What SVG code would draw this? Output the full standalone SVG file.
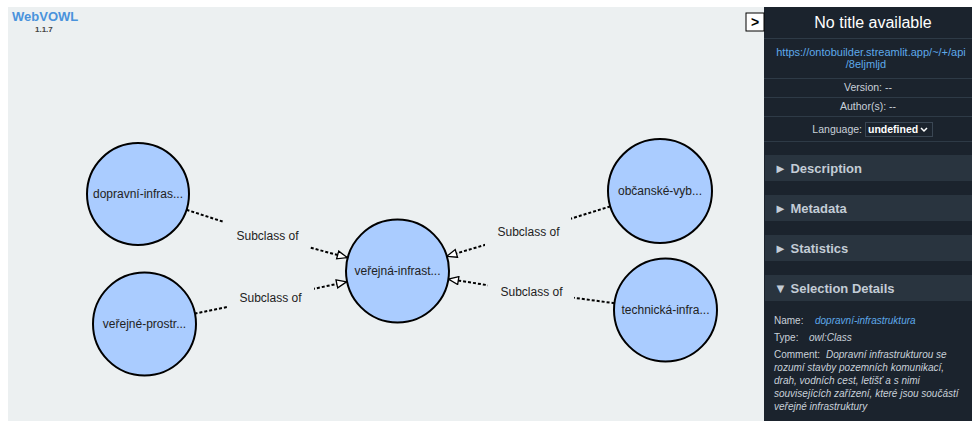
<svg xmlns="http://www.w3.org/2000/svg" width="972" height="421" viewBox="0 0 972 421">
<defs>
<style>
.node circle{fill:#aaccff;stroke:#000;stroke-width:2}
.node text{font-family:"Liberation Sans",Arial,sans-serif;font-size:12px;fill:#222;text-anchor:middle}
.link path{fill:none;stroke:#000;stroke-width:2;stroke-dasharray:3,2}
.lbl rect{fill:#ecf0f1}
.lbl text{font-family:"Liberation Sans",Arial,sans-serif;font-size:12px;fill:#222;text-anchor:middle}
.sb{font-family:"Liberation Sans",Arial,sans-serif;fill:#c9d1da}
.hdr{fill:#29343f}
.hdrt{font-family:"Liberation Sans",Arial,sans-serif;font-size:13px;font-weight:bold;fill:#c3ccd6}
.sep{stroke:#2e3a46;stroke-width:1}
.it{font-style:italic}
</style>
<marker id="arr" viewBox="0 0 12 10" refX="11" refY="5" markerWidth="12" markerHeight="10" markerUnits="userSpaceOnUse" orient="auto">
<path d="M1,1 L11,5 L1,9 Z" fill="#fff" stroke="#000" stroke-width="1.3" stroke-dasharray="none"/>
</marker>
</defs>
<rect x="0" y="0" width="972" height="421" fill="#fff"/>
<rect x="8" y="7" width="756" height="414" fill="#ecf0f1"/>
<text x="12" y="21" font-family="'Liberation Sans',Arial,sans-serif" font-size="13" font-weight="bold" fill="#4a93dc">WebVOWL</text>
<text x="35" y="32" font-family="'Liberation Sans',Arial,sans-serif" font-size="8" font-weight="bold" fill="#444">1.1.7</text>

<g id="connectors">
<g class="link"><path d="M186.5,209.8 L267,236 L347.3,257.6" marker-end="url(#arr)"/></g>
<g class="link"><path d="M194.5,313.7 L271,298 L346.6,281.8" marker-end="url(#arr)"/></g>
<g class="link"><path d="M610.3,206.4 L528,232 L446.8,256.3" marker-end="url(#arr)"/></g>
<g class="link"><path d="M614.5,303.2 L531,292 L448.4,279" marker-end="url(#arr)"/></g>
<g class="lbl"><rect x="224" y="221" width="86" height="30"/><text x="267.5" y="240">Subclass of</text></g>
<g class="lbl"><rect x="228" y="283" width="86" height="30"/><text x="270.5" y="302">Subclass of</text></g>
<g class="lbl"><rect x="485" y="217" width="86" height="30"/><text x="528.5" y="236">Subclass of</text></g>
<g class="lbl"><rect x="488" y="277" width="86" height="30"/><text x="531.5" y="296">Subclass of</text></g>
</g>

<g id="node-dopravni" class="node"><circle cx="138" cy="194" r="51"/><text x="138" y="198">dopravní-infras...</text></g>
<g id="node-verejne-prostr" class="node"><circle cx="144.5" cy="324" r="51.5"/><text x="144.5" y="328">veřejné-prostr...</text></g>
<g id="node-verejna-infrast" class="node"><circle cx="397.5" cy="271" r="51.5"/><text x="397.5" y="275">veřejná-infrast...</text></g>
<g id="node-obcanske" class="node"><circle cx="660" cy="191" r="52"/><text x="660" y="195">občanské-vyb...</text></g>
<g id="node-technicka" class="node"><circle cx="665.5" cy="310" r="51.5"/><text x="665.5" y="314">technická-infra...</text></g>

<g id="sidebar">
<rect x="764" y="7" width="208" height="414" fill="#1b232d"/>
<rect x="746" y="13" width="18" height="18" fill="#fff" stroke="#000" stroke-width="1"/>
<text x="755" y="27" font-family="'Liberation Sans',Arial,sans-serif" font-size="14" font-weight="bold" fill="#000" text-anchor="middle">&gt;</text>
<text x="873" y="28" class="sb" font-size="16" text-anchor="middle" style="fill:#fff">No title available</text>
<line x1="764" y1="38.5" x2="972" y2="38.5" class="sep"/>
<text x="871" y="56" font-family="'Liberation Sans',Arial,sans-serif" font-size="11" fill="#5ea9ea" text-anchor="middle">https://ontobuilder.streamlit.app/~/+/api</text>
<text x="866" y="68" font-family="'Liberation Sans',Arial,sans-serif" font-size="11" fill="#5ea9ea" text-anchor="middle">/8eljmljd</text>
<line x1="764" y1="78.5" x2="972" y2="78.5" class="sep"/>
<text x="868" y="91" class="sb" font-size="10.5" text-anchor="middle">Version: --</text>
<line x1="764" y1="97.5" x2="972" y2="97.5" class="sep"/>
<text x="868" y="110" class="sb" font-size="10.5" text-anchor="middle">Author(s): --</text>
<line x1="764" y1="116.5" x2="972" y2="116.5" class="sep"/>
<text x="862" y="133" class="sb" font-size="10.5" text-anchor="end">Language:</text>
<rect x="865.5" y="122.5" width="67" height="14" fill="#1b232d" stroke="#3a4653" stroke-width="1"/>
<text x="868" y="133" font-family="'Liberation Sans',Arial,sans-serif" font-size="10.5" font-weight="bold" fill="#fff">undefined</text>
<path d="M921,128 L924,131 L927,128" fill="none" stroke="#fff" stroke-width="1.5"/>
<line x1="764" y1="141.5" x2="972" y2="141.5" class="sep"/>
<rect x="765" y="155" width="207" height="26" class="hdr"/>
<text x="774" y="173" class="hdrt">► Description</text>
<rect x="765" y="195" width="207" height="26" class="hdr"/>
<text x="774" y="213" class="hdrt">► Metadata</text>
<rect x="765" y="235" width="207" height="26" class="hdr"/>
<text x="774" y="253" class="hdrt">► Statistics</text>
<rect x="765" y="275" width="207" height="26" class="hdr"/>
<text x="774" y="293" class="hdrt">▼ Selection Details</text>
<g font-size="10">
<text x="774" y="324" class="sb">Name:</text>
<text x="815" y="324" font-family="'Liberation Sans',Arial,sans-serif" font-style="italic" fill="#5ea9ea">dopravní-infrastruktura</text>
<text x="774" y="341" class="sb">Type:</text>
<text x="809" y="341" class="sb it">owl:Class</text>
<text x="774" y="358" class="sb">Comment:</text>
<text x="826" y="358" class="sb it">Dopravní infrastrukturou se</text>
<text x="774" y="371" class="sb it">rozumí stavby pozemních komunikací,</text>
<text x="774" y="384" class="sb it">drah, vodních cest, letišť a s nimi</text>
<text x="774" y="397" class="sb it">souvisejících zařízení, které jsou součástí</text>
<text x="774" y="410" class="sb it">veřejné infrastruktury</text>
</g>
</g>
</svg>
